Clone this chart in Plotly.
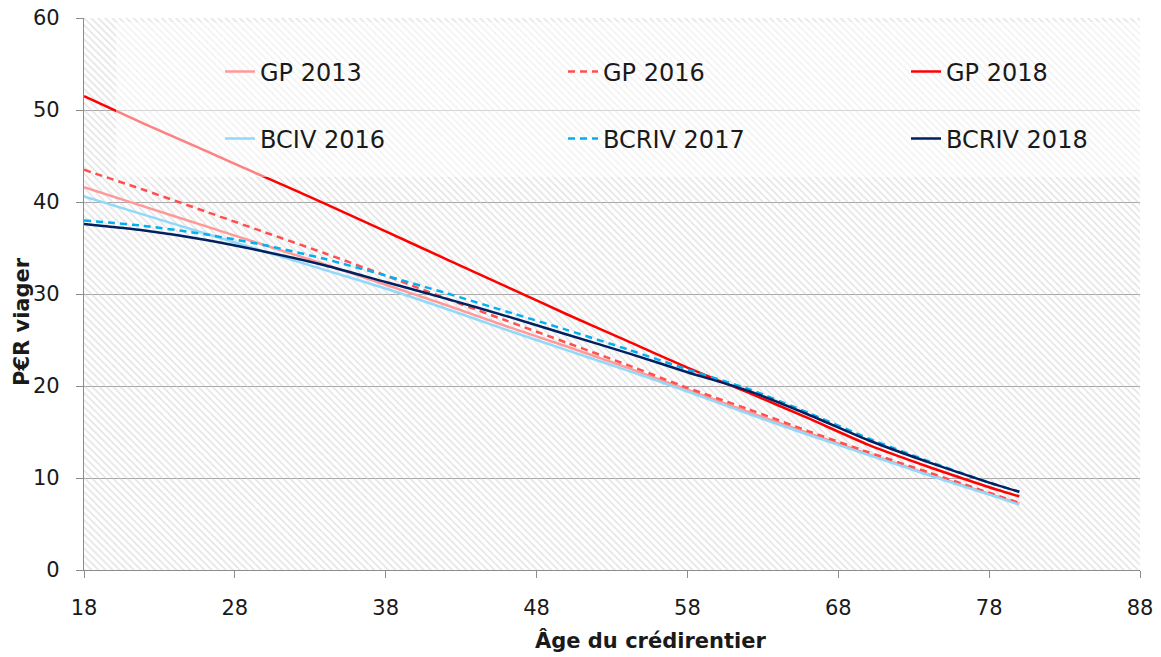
import plotly.graph_objects as go

# ---- data ----
ages = [18, 22, 26, 30, 34, 38, 42, 46, 50, 54, 58, 62, 66, 70, 74, 78, 80]
gp_2013 = [41.6, 39.5, 37.4, 35.3, 33.2, 31.0, 28.8, 26.5, 24.3, 22.0, 19.6, 17.2, 14.9, 12.6, 10.4, 8.3, 7.2]
gp_2016 = [43.5, 41.3, 39.0, 36.7, 34.4, 32.0, 29.5, 27.1, 24.7, 22.3, 19.8, 17.5, 15.1, 12.8, 10.6, 8.4, 7.3]
gp_2018 = [51.5, 48.5, 45.6, 42.7, 39.8, 36.8, 33.8, 30.8, 27.8, 24.9, 22.0, 19.3, 16.5, 13.6, 11.2, 9.0, 8.0]
bciv_2016 = [40.6, 38.6, 36.6, 34.6, 32.6, 30.6, 28.4, 26.1, 23.9, 21.7, 19.4, 17.0, 14.7, 12.5, 10.3, 8.2, 7.1]
bcriv_2017 = [38.0, 37.4, 36.5, 35.3, 33.8, 32.0, 30.1, 28.1, 26.1, 24.0, 21.8, 19.7, 17.1, 14.3, 11.8, 9.5, 8.5]
bcriv_2018 = [37.6, 36.9, 35.9, 34.6, 33.1, 31.3, 29.5, 27.6, 25.6, 23.6, 21.5, 19.5, 16.9, 14.1, 11.7, 9.5, 8.5]

x_range = [18, 88]
y_range = [0, 60]
x_ticks = [18, 28, 38, 48, 58, 68, 78, 88]
y_ticks = [0, 10, 20, 30, 40, 50, 60]

series = [
    ("GP 2013", gp_2013, "#ff9999", "solid", "legend"),
    ("GP 2016", gp_2016, "#ff4f4f", "7px,5px", "legend"),
    ("GP 2018", gp_2018, "#ff0000", "solid", "legend"),
    ("BCIV 2016", bciv_2016, "#92d8f8", "solid", "legend2"),
    ("BCRIV 2017", bcriv_2017, "#00b0f0", "7px,5px", "legend2"),
    ("BCRIV 2018", bcriv_2018, "#002060", "solid", "legend2"),
]

FONT = "DejaVu Sans"
TXT = "#1a1a1a"

fig = go.Figure()

# hatched background of the plot area
fig.add_trace(go.Scatter(
    x=[x_range[0], x_range[1], x_range[1], x_range[0], x_range[0]],
    y=[y_range[0], y_range[0], y_range[1], y_range[1], y_range[0]],
    mode="lines", line=dict(width=0), fill="toself",
    fillcolor="rgba(0,0,0,0)",
    fillpattern=dict(shape="\\", fgcolor="#c8c8c8", bgcolor="rgba(0,0,0,0)",
                     size=5, solidity=0.3),
    hoverinfo="skip", showlegend=False,
))

for name, vals, color, dash, leg in series:
    fig.add_trace(go.Scatter(
        x=ages, y=vals, name=name, mode="lines",
        line=dict(color=color, width=2.5, dash=dash, shape="spline", smoothing=0.6),
        legend=leg, hoverinfo="skip",
    ))

W, H = 1161, 657
ML, MR, MT, MB = 84, 21, 18, 87
pw = W - ML - MR
ph = H - MT - MB

def px_x(p):
    return (p - ML) / pw

def px_y(p):
    return (H - MB - p) / ph

legend_common = dict(
    orientation="h", entrywidth=298, entrywidthmode="pixels",
    font=dict(family=FONT, size=24, color=TXT),
    bgcolor="rgba(0,0,0,0)", xanchor="left", yanchor="middle",
    itemwidth=30,
)

fig.update_layout(
    width=W, height=H,
    margin=dict(l=ML, r=MR, t=MT, b=MB, autoexpand=False),
    paper_bgcolor="white", plot_bgcolor="white",
    font=dict(family=FONT, color=TXT),
    legend=dict(x=px_x(220), y=px_y(72), **legend_common),
    legend2=dict(x=px_x(220), y=px_y(139), **legend_common),
    xaxis=dict(
        range=x_range, tickvals=x_ticks, showgrid=False, zeroline=False,
        showline=True, linecolor="#8c8c8c", linewidth=1.3, automargin=False,
        ticks="outside", ticklen=7, tickcolor="#8c8c8c", tickwidth=1.3,
        tickfont=dict(family=FONT, size=21, color=TXT), ticklabelstandoff=12,
    ),
    yaxis=dict(
        range=y_range, tickvals=y_ticks, showgrid=True, gridcolor="#a6a6a6",
        gridwidth=1.3, zeroline=False, automargin=False,
        showline=True, linecolor="#8c8c8c", linewidth=1.3,
        ticks="outside", ticklen=7, tickcolor="#8c8c8c", tickwidth=1.3,
        tickfont=dict(family=FONT, size=21, color=TXT), ticklabelstandoff=12,
    ),
    shapes=[dict(
        type="rect", xref="paper", yref="paper",
        x0=px_x(116), x1=1.0, y0=px_y(177), y1=px_y(22),
        fillcolor="rgba(255,255,255,0.5)", line=dict(width=0), layer="above",
    )],
    annotations=[
        dict(text="<b>Âge du crédirentier</b>", xref="paper", yref="paper",
             x=px_x(650), y=px_y(640), showarrow=False,
             font=dict(family=FONT, size=21, color=TXT),
             xanchor="center", yanchor="middle"),
        dict(text="<b>P€R viager</b>", xref="paper", yref="paper",
             x=px_x(22), y=px_y(322), showarrow=False, textangle=-90,
             font=dict(family=FONT, size=21, color=TXT),
             xanchor="center", yanchor="middle"),
    ],
    hovermode=False,
)

fig.write_html(
    "out.html",
    config={"displayModeBar": False},
    post_script="document.body.style.margin='0';document.body.style.overflow='hidden';",
)
